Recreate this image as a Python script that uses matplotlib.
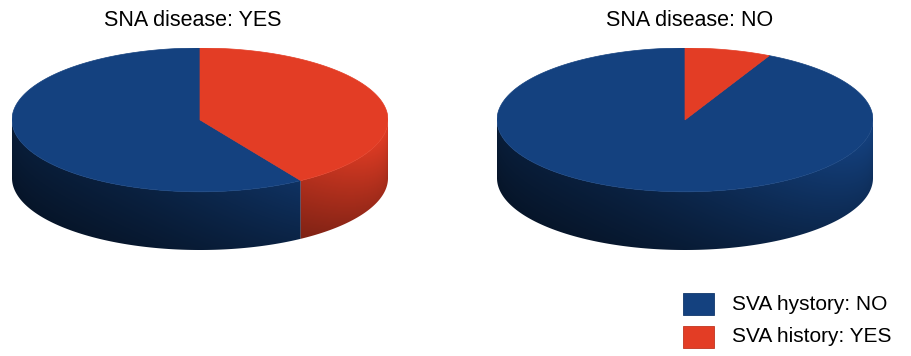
import numpy as np
import matplotlib
matplotlib.use("Agg")
import matplotlib.pyplot as plt
import matplotlib.colors as mcolors
from matplotlib.patches import Polygon, Rectangle

plt.rcParams["font.family"] = ["Liberation Sans", "DejaVu Sans"]

labels = ["SVA hystory: NO", "SVA history: YES"]
colors = ["#14417f", "#e33d25"]
titles = ["SNA disease: YES", "SNA disease: NO"]
sna_yes = [59, 41]
sna_no = [92.6, 7.4]

B = 0.383  # vertical squash of the top ellipse
D = 0.31   # depth of the side wall


def wall_image(color, n=300):
    # shade depends on x (angle on the front half) and on depth below the rim
    x = np.linspace(-1, 1, n)
    y = np.linspace(B, -B - D, n)
    X, Y = np.meshgrid(x, y)
    f = 0.45 + 0.55 * ((X + 1) / 2) ** 2
    rim = -B * np.sqrt(np.clip(1 - X ** 2, 0, 1))
    depth = np.clip((rim - Y) / D, 0, 1)
    g = 1 - 0.28 * depth
    rgb = np.array(mcolors.to_rgb(color))
    return np.clip(rgb[None, None, :] * (f * g)[..., None], 0, 1)


def pie3d(ax, values, colors):
    fr = np.array(values, dtype=float) / sum(values)
    edges = np.radians(90 + 360 * np.concatenate([[0], np.cumsum(fr)]))
    # side wall, front half only
    for i, c in enumerate(colors):
        lo, hi = max(edges[i], np.pi), min(edges[i + 1], 2 * np.pi)
        if lo >= hi:
            continue
        ts = np.linspace(lo, hi, 200)
        top = [(np.cos(t), B * np.sin(t)) for t in ts]
        bot = [(np.cos(t), B * np.sin(t) - D) for t in ts[::-1]]
        poly = Polygon(top + bot, closed=True, facecolor="none", edgecolor="none")
        ax.add_patch(poly)
        im = ax.imshow(wall_image(c), extent=(-1, 1, -B - D, B), aspect="auto",
                       interpolation="bilinear", zorder=1)
        im.set_clip_path(poly)
    # top face
    for i, c in enumerate(colors):
        ts = np.linspace(edges[i], edges[i + 1], 200)
        pts = [(0, 0)] + [(np.cos(t), B * np.sin(t)) for t in ts]
        ax.add_patch(Polygon(pts, closed=True, facecolor=c, edgecolor=c, lw=0.5, zorder=2))
    ax.set_xlim(-1, 1)
    ax.set_ylim(-B - D, B)
    ax.axis("off")


fig = plt.figure(figsize=(9.11, 3.56), dpi=100)
W, H = 911, 356

ax1 = fig.add_axes([12 / W, (H - 250) / H, 376 / W, 202 / H])
pie3d(ax1, sna_yes, colors)
ax2 = fig.add_axes([497 / W, (H - 250) / H, 376 / W, 202 / H])
pie3d(ax2, sna_no, colors)

fig.text(193 / W, 1 - 21 / H, titles[0], ha="center", va="center", fontsize=15.5)
fig.text(690 / W, 1 - 21 / H, titles[1], ha="center", va="center", fontsize=15.5)

# legend
for k, (lab, c) in enumerate(zip(labels, colors)):
    top = 293 + k * 33
    fig.patches.append(Rectangle((683 / W, (H - top - 22) / H), 31 / W, 22 / H,
                                 transform=fig.transFigure, facecolor=c,
                                 edgecolor=tuple(np.array(mcolors.to_rgb(c)) * 0.85), lw=0.6))
    fig.text(732 / W, 1 - (top + 11) / H, lab, ha="left", va="center", fontsize=15)

fig.savefig("out.png", dpi=100)
